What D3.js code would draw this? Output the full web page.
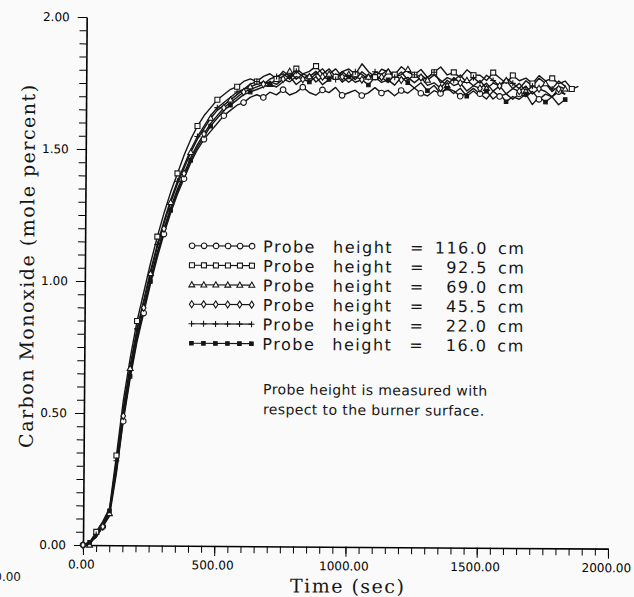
<!DOCTYPE html>
<html>
<head>
<meta charset="utf-8">
<script src="https://cdn.jsdelivr.net/npm/d3@7"></script>
<style>
  html, body { margin: 0; padding: 0; background: #fafafa; }
  svg { display: block; }
</style>
</head>
<body>
<svg id="chart" width="634" height="597"></svg>
<script>
// Carbon monoxide concentration vs. time at six probe heights.
// Samples are 25 s apart, starting at t = 0.
const timeStep = 25;

const probeHeights = ["116.0", "92.5", "69.0", "45.5", "22.0", "16.0"];

const co116 = [
  0, 0.01, 0.03, 0.07, 0.11, 0.27, 0.47, 0.63, 0.77, 0.88, 0.99, 1.09, 1.18, 1.26, 1.33, 1.39, 1.45, 1.50, 1.54, 1.57,
  1.60, 1.63, 1.65, 1.67, 1.68, 1.70, 1.71, 1.70, 1.72, 1.71,
  1.73, 1.71, 1.72, 1.74, 1.72, 1.71, 1.73, 1.72, 1.74, 1.71,
  1.72, 1.73, 1.71, 1.72, 1.74, 1.72, 1.73, 1.71, 1.73, 1.72,
  1.74, 1.72, 1.71, 1.73, 1.72, 1.74, 1.73, 1.71, 1.72, 1.74,
  1.72, 1.70, 1.73, 1.71, 1.72, 1.70, 1.72, 1.71, 1.73, 1.70,
  1.72, 1.71, 1.73, 1.72
];
const co92 = [
  0, 0.01, 0.05, 0.09, 0.14, 0.34, 0.55, 0.71, 0.85, 0.96, 1.07, 1.17, 1.26, 1.34, 1.41, 1.48, 1.54, 1.59, 1.63, 1.66,
  1.69, 1.71, 1.73, 1.74, 1.76, 1.77, 1.76, 1.78, 1.79, 1.77,
  1.80, 1.78, 1.81, 1.79, 1.80, 1.82, 1.79, 1.81, 1.78, 1.80,
  1.81, 1.79, 1.83, 1.80, 1.78, 1.81, 1.80, 1.79, 1.82, 1.80,
  1.79, 1.81, 1.78, 1.80, 1.82, 1.79, 1.80, 1.78, 1.81, 1.79,
  1.79, 1.77, 1.80, 1.78, 1.76, 1.79, 1.77, 1.78, 1.76, 1.79,
  1.77, 1.78, 1.76, 1.77, 1.74, 1.75
];
const co69 = [
  0, 0.00, 0.04, 0.08, 0.12, 0.31, 0.51, 0.67, 0.81, 0.92, 1.03, 1.13, 1.22, 1.30, 1.37, 1.43, 1.49, 1.54, 1.58, 1.62,
  1.65, 1.67, 1.69, 1.71, 1.73, 1.74, 1.75, 1.76, 1.75, 1.77,
  1.78, 1.80, 1.77, 1.79, 1.78, 1.80, 1.77, 1.79, 1.81, 1.78,
  1.79, 1.77, 1.80, 1.78, 1.79, 1.77, 1.80, 1.78, 1.79, 1.81,
  1.78, 1.79, 1.77, 1.79, 1.77, 1.75, 1.78, 1.76, 1.77, 1.75,
  1.77, 1.74, 1.76, 1.75, 1.77, 1.74, 1.76, 1.73, 1.75, 1.74,
  1.76, 1.73, 1.75, 1.74
];
const co45 = [
  0, 0.01, 0.03, 0.07, 0.12, 0.29, 0.49, 0.65, 0.79, 0.90, 1.01, 1.11, 1.20, 1.28, 1.35, 1.41, 1.47, 1.52, 1.56, 1.60,
  1.63, 1.66, 1.68, 1.70, 1.72, 1.73, 1.74, 1.75, 1.76, 1.75,
  1.77, 1.76, 1.78, 1.77, 1.79, 1.76, 1.78, 1.77, 1.79, 1.78,
  1.76, 1.78, 1.77, 1.79, 1.77, 1.78, 1.76, 1.79, 1.77, 1.78,
  1.76, 1.78, 1.75, 1.76, 1.74, 1.77, 1.75, 1.76, 1.73, 1.75,
  1.74, 1.76, 1.73, 1.75, 1.72, 1.74, 1.73, 1.75, 1.72, 1.74,
  1.73, 1.71, 1.74, 1.72
];
const co22 = [
  0, 0.01, 0.04, 0.08, 0.13, 0.32, 0.52, 0.68, 0.82, 0.93, 1.04, 1.14, 1.23, 1.31, 1.38, 1.44, 1.50, 1.55, 1.59, 1.63,
  1.66, 1.68, 1.70, 1.72, 1.73, 1.75, 1.76, 1.75, 1.77, 1.78,
  1.79, 1.77, 1.80, 1.78, 1.77, 1.79, 1.81, 1.78, 1.77, 1.80,
  1.78, 1.80, 1.79, 1.77, 1.80, 1.79, 1.81, 1.78, 1.80, 1.77,
  1.79, 1.77, 1.78, 1.80, 1.76, 1.78, 1.77, 1.79, 1.76, 1.78,
  1.76, 1.79, 1.77, 1.75, 1.78, 1.76, 1.74, 1.77, 1.75, 1.78,
  1.76, 1.74, 1.77, 1.75
];
const co16 = [
  0, 0.01, 0.04, 0.08, 0.13, 0.28, 0.48, 0.64, 0.78, 0.89, 1.00, 1.10, 1.19, 1.27, 1.34, 1.40, 1.46, 1.51, 1.55, 1.59,
  1.62, 1.65, 1.67, 1.69, 1.71, 1.72, 1.73, 1.74, 1.75, 1.74,
  1.76, 1.78, 1.75, 1.77, 1.76, 1.78, 1.75, 1.77, 1.79, 1.76,
  1.78, 1.76, 1.77, 1.75, 1.78, 1.76, 1.77, 1.75, 1.78, 1.76,
  1.74, 1.76, 1.73, 1.75, 1.72, 1.74, 1.72, 1.74, 1.71, 1.73,
  1.71, 1.73, 1.70, 1.72, 1.69, 1.71, 1.70, 1.72, 1.68, 1.71,
  1.69, 1.71, 1.68, 1.70
];

const xTickValues = [0, 500, 1000, 1500, 2000];
const yTickValues = [0, 0.5, 1.0, 1.5, 2.0];
const xMinorStep = 50;
const yMinorStep = 0.05;

const xTitle = "Time (sec)";
const yTitle = "Carbon Monoxide (mole percent)";
const noteLines = ["Probe height is measured with", "respect to the burner surface."];

// ---------------------------------------------------------------------------
const ink = "#161616";
const svg = d3.select("#chart");
svg.append("rect").attr("width", 634).attr("height", 597).attr("fill", "#fafafa");

const ox = 83, oy = 545;
const xScale = d3.scaleLinear().domain([0, 2000]).range([ox, 608]);
const yScale = d3.scaleLinear().domain([0, 2]).range([oy, 17]);

const tickFont = "'DejaVu Sans', sans-serif";
const titleFont = "'DejaVu Serif', serif";

// whole plot sits slightly tilted on the page
const root = svg.append("g").attr("transform", `rotate(0.4 ${ox} ${oy})`);

// minor tick marks every 50 s / 0.05
const xTickAll = d3.range(0, 2000.1, xMinorStep);
const yTickAll = d3.range(0, 40.1).map(i => +(i * yMinorStep).toFixed(2));
root.append("g").attr("transform", `translate(0,${oy})`)
  .call(d3.axisBottom(xScale).tickValues(xTickAll).tickSize(7).tickSizeOuter(0).tickFormat(""))
  .call(g => g.select(".domain").remove());
root.append("g").attr("transform", `translate(${ox},0)`)
  .call(d3.axisLeft(yScale).tickValues(yTickAll).tickSize(7).tickSizeOuter(0).tickFormat(""))
  .call(g => g.select(".domain").remove());

// axis lines, longer ticks and labels at the labelled values
const xAxis = root.append("g").attr("transform", `translate(0,${oy})`)
  .call(d3.axisBottom(xScale).tickValues(xTickValues).tickSize(10).tickSizeOuter(0).tickPadding(5).tickFormat(d3.format(".2f")));
const yAxis = root.append("g").attr("transform", `translate(${ox},0)`)
  .call(d3.axisLeft(yScale).tickValues(yTickValues).tickSize(9).tickSizeOuter(0).tickPadding(8).tickFormat(d3.format(".2f")));

[xAxis, yAxis].forEach(a => {
  a.select(".domain").attr("stroke-width", 1.6);
  a.selectAll("text").style("font-family", tickFont).style("font-size", "12px");
});
xAxis.selectAll("text").attr("dx", "-2");

// axis titles
root.append("text")
  .attr("x", 348).attr("y", 591)
  .attr("text-anchor", "middle")
  .style("font-family", titleFont).style("font-size", "19px").style("letter-spacing", "1.5px")
  .attr("fill", ink).text(xTitle);
root.append("text")
  .attr("transform", "translate(32,266) rotate(-90)")
  .attr("text-anchor", "middle")
  .style("font-family", titleFont).style("font-size", "19px").style("letter-spacing", "1.5px")
  .attr("fill", ink).text(yTitle);

// ---------------------------------------------------------------------------
// marker shapes
const shapes = [
  { draw(c, r) { c.moveTo(r, 0); c.arc(0, 0, r, 0, 2 * Math.PI); } },                         // circle
  { draw(c, r) { c.rect(-r, -r, 2 * r, 2 * r); } },                                           // square
  { draw(c, r) { c.moveTo(0, -r * 1.1); c.lineTo(r * 1.05, r * 0.75); c.lineTo(-r * 1.05, r * 0.75); c.closePath(); } }, // triangle
  { draw(c, r) { c.moveTo(0, -r * 1.3); c.lineTo(r * 0.85, 0); c.lineTo(0, r * 1.3); c.lineTo(-r * 0.85, 0); c.closePath(); } }, // diamond
  { draw(c, r) { c.moveTo(-r, 0); c.lineTo(r, 0); c.moveTo(0, -r); c.lineTo(0, r); } },        // plus
  { draw(c, r) { c.rect(-r * 0.8, -r * 0.8, r * 1.6, r * 1.6); } }                             // filled square
];
const markerRadius = [2.8, 2.5, 2.8, 2.7, 3, 2.2];
const markerFill = ["#fafafa", "#fafafa", "#fafafa", "#fafafa", "none", ink];

function markerPath(i) {
  return d3.symbol().type(shapes[i]).size(markerRadius[i])();
}

const seriesValues = [co116, co92, co69, co45, co22, co16];
const series = seriesValues.map((vals, i) => ({
  i,
  points: vals.map((v, k) => ({ t: k * timeStep, v }))
}));

const lineGen = d3.line().x(d => xScale(d.t)).y(d => yScale(d.v));

const plot = root.append("g");
plot.selectAll("path.series").data(series).join("path")
  .attr("class", "series")
  .attr("d", d => lineGen(d.points))
  .attr("fill", "none").attr("stroke", ink).attr("stroke-width", 1.4).attr("stroke-linejoin", "round");

series.forEach(s => {
  const marks = s.points.filter((p, k) => (k + s.i) % 3 === 0);
  plot.append("g").selectAll("path").data(marks).join("path")
    .attr("transform", d => `translate(${xScale(d.t)},${yScale(d.v)})`)
    .attr("d", markerPath(s.i))
    .attr("fill", markerFill[s.i]).attr("stroke", ink).attr("stroke-width", 1.1);
});

// ---------------------------------------------------------------------------
// legend
const legendFont = "'DejaVu Sans', sans-serif";
const lg = root.append("g");
const rowY = d => 245 + d * 19.5;
probeHeights.forEach((h, i) => {
  const yy = rowY(i);
  lg.append("line").attr("x1", 190).attr("x2", 250).attr("y1", yy).attr("y2", yy)
    .attr("stroke", ink).attr("stroke-width", 1.2);
  d3.range(6).forEach(k => {
    lg.append("path").attr("transform", `translate(${190 + k * 12},${yy})`)
      .attr("d", markerPath(i)).attr("fill", markerFill[i]).attr("stroke", ink).attr("stroke-width", 1.1);
  });
  const txt = (tx, s, anchor) => lg.append("text").attr("x", tx).attr("y", yy + 6)
    .attr("text-anchor", anchor || "start")
    .style("font-family", legendFont).style("font-size", "16px").style("letter-spacing", "1.5px")
    .attr("fill", ink).text(s);
  txt(261, "Probe");
  txt(331, "height");
  txt(408, "=");
  txt(486, h, "end");
  txt(496, "cm");
});

noteLines.forEach((s, i) => {
  lg.append("text").attr("x", 262).attr("y", 393 + i * 20)
    .style("font-family", legendFont).style("font-size", "14px").style("letter-spacing", "0.4px")
    .attr("fill", ink).text(s);
});

// stray label at the lower left page edge
svg.append("text").attr("x", 21).attr("y", 581).attr("text-anchor", "end")
  .style("font-family", tickFont).style("font-size", "12px").attr("fill", ink).text("0.00");
</script>
</body>
</html>
